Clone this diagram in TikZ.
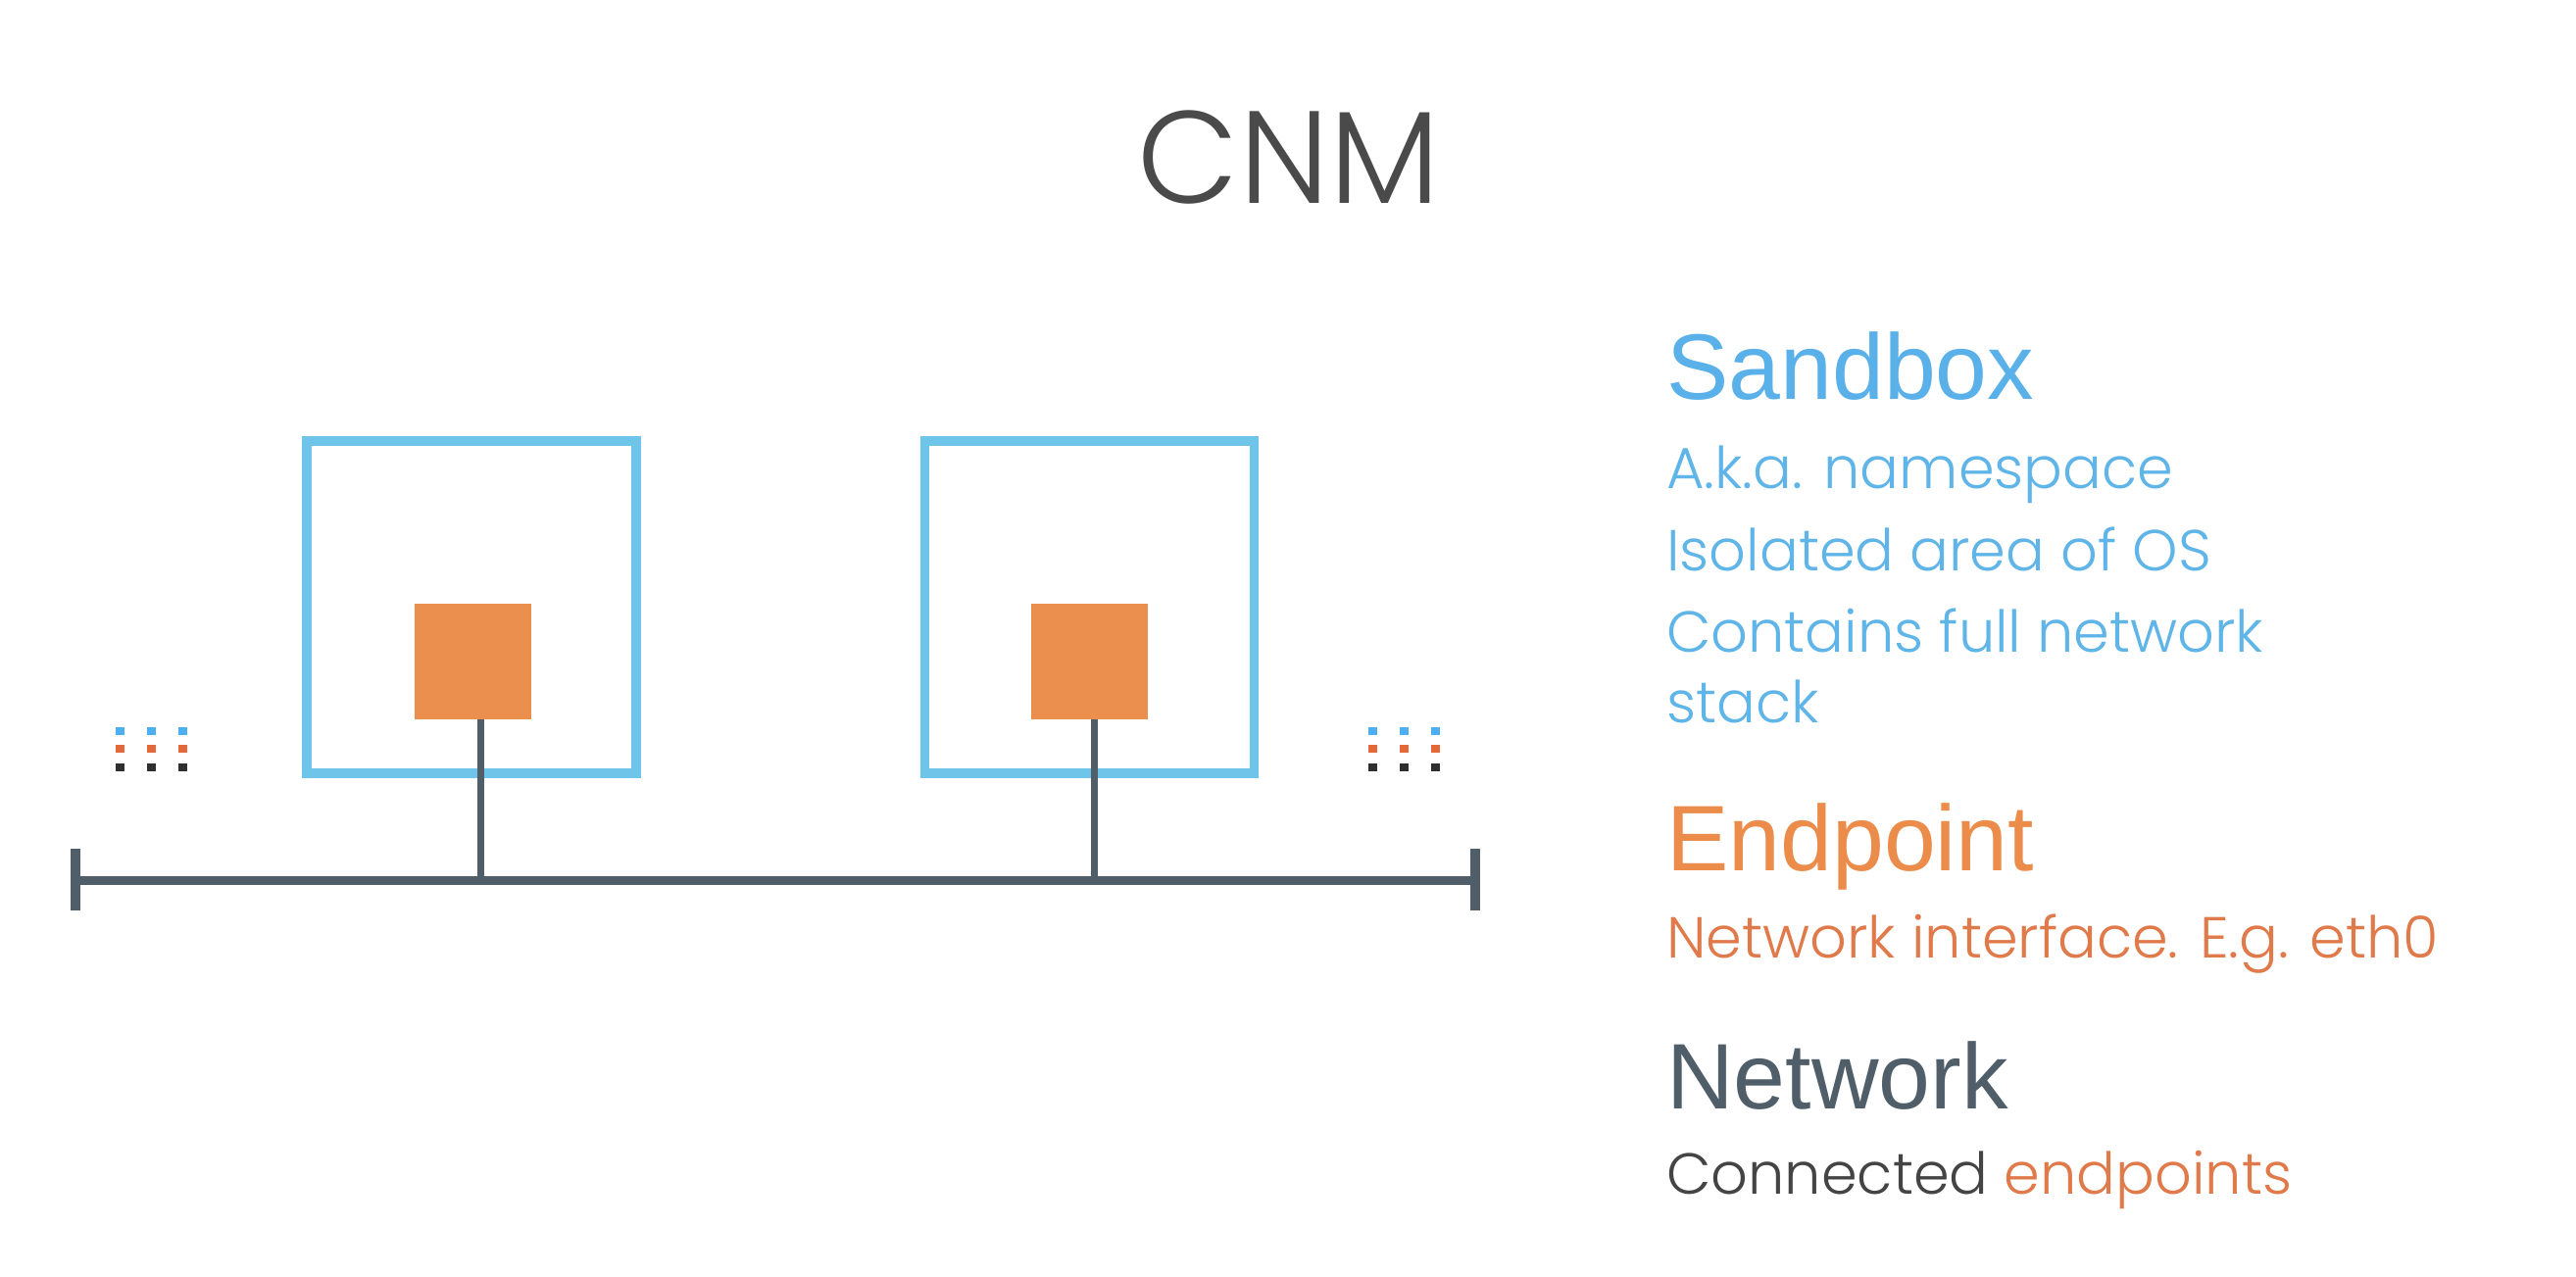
\documentclass[tikz,border=0pt]{standalone}
\usepackage{fontspec}
\newfontfamily\headfont{Liberation Sans}
\newfontfamily\bodyfont{Poppins Light}
\definecolor{titlegray}{HTML}{4A4A4A}
\definecolor{boxblue}{HTML}{6FC4EA}
\definecolor{eporange}{HTML}{EB8F4E}
\definecolor{busgray}{HTML}{4F5E68}
\definecolor{dotblue}{HTML}{4DAEF0}
\definecolor{dotorange}{HTML}{E5683A}
\definecolor{dotblack}{HTML}{2F2F2F}
\definecolor{headblue}{HTML}{5AB0E8}
\definecolor{bodyblue}{HTML}{5FB4E8}
\definecolor{headorange}{HTML}{EC8C4A}
\definecolor{bodyorange}{HTML}{E07A4A}
\definecolor{textdark}{HTML}{444444}
\begin{document}
\begin{tikzpicture}[x=1pt,y=-1pt,
  sandboxbox/.style={draw=boxblue, line width=9.5pt, minimum width=336pt, minimum height=339pt, inner sep=0pt},
  epsquare/.style={fill=eporange, minimum width=119pt, minimum height=118pt, inner sep=0pt},
  link/.style={draw=busgray, line width=7pt},
  bus/.style={draw=busgray, line width=9pt},
  tick/.style={draw=busgray, line width=10pt},
  heading/.style={anchor=base west, inner sep=0pt, font=\headfont\fontsize{95}{95}\selectfont},
  bodytext/.style={anchor=base west, inner sep=0pt, font=\bodyfont\fontsize{59}{59}\selectfont},
  dotmark/.style={minimum width=9pt, minimum height=8pt, inner sep=0pt}
]
\useasboundingbox (0,0) rectangle (2628,1302);
\fill[white] (0,0) rectangle (2628,1302);

% title
\node[anchor=base, inner sep=0pt, text=titlegray, font=\bodyfont\fontsize{134}{134}\selectfont] (title) at (1315,207) {CNM};

% sandboxes
\node[sandboxbox] (sb1) at (481,619.5) {};
\node[sandboxbox] (sb2) at (1111.5,619.5) {};

% endpoints
\node[epsquare] (ep1) at (482.5,675) {};
\node[epsquare] (ep2) at (1111,675) {};

% network bus
\coordinate (busL) at (77,898);
\coordinate (busR) at (1505,898);
\coordinate (j1) at (490,898);
\coordinate (j2) at (1116,898);
\draw[bus] (busL) -- (busR);
\draw[tick] ([yshift=-31pt]busL) -- ([yshift=32pt]busL);
\draw[tick] ([yshift=-31pt]busR) -- ([yshift=32pt]busR);
\draw[link] (ep1.south -| j1) -- (j1);
\draw[link] (ep2.south -| j2) -- (j2);

% ellipsis dots
\foreach \x [count=\i] in {122,154,186,1400,1432,1464}{
  \node[dotmark, fill=dotblue] (db\i) at (\x,746) {};
  \node[dotmark, fill=dotorange] (do\i) at (\x,764) {};
  \node[dotmark, fill=dotblack] (dk\i) at (\x,783) {};
}

% legend
\node[heading, text=headblue] (h1) at (1700,407) {Sandbox};
\node[bodytext, text=bodyblue] (t1) at (1700,498) {A.k.a. namespace};
\node[bodytext, text=bodyblue] (t2) at (1700,582) {Isolated area of OS};
\node[bodytext, text=bodyblue] (t3) at (1700,665) {Contains full network};
\node[bodytext, text=bodyblue] (t4) at (1700,737) {stack};

\node[heading, text=headorange] (h2) at (1700,888) {Endpoint};
\node[bodytext, text=bodyorange] (t5) at (1700,977) {Network interface. E.g. eth0};

\node[heading, text=busgray] (h3) at (1700,1131) {Network};
\node[bodytext, text=textdark] (t6) at (1700,1218) {Connected \textcolor{bodyorange}{endpoints}};
\end{tikzpicture}
\end{document}
